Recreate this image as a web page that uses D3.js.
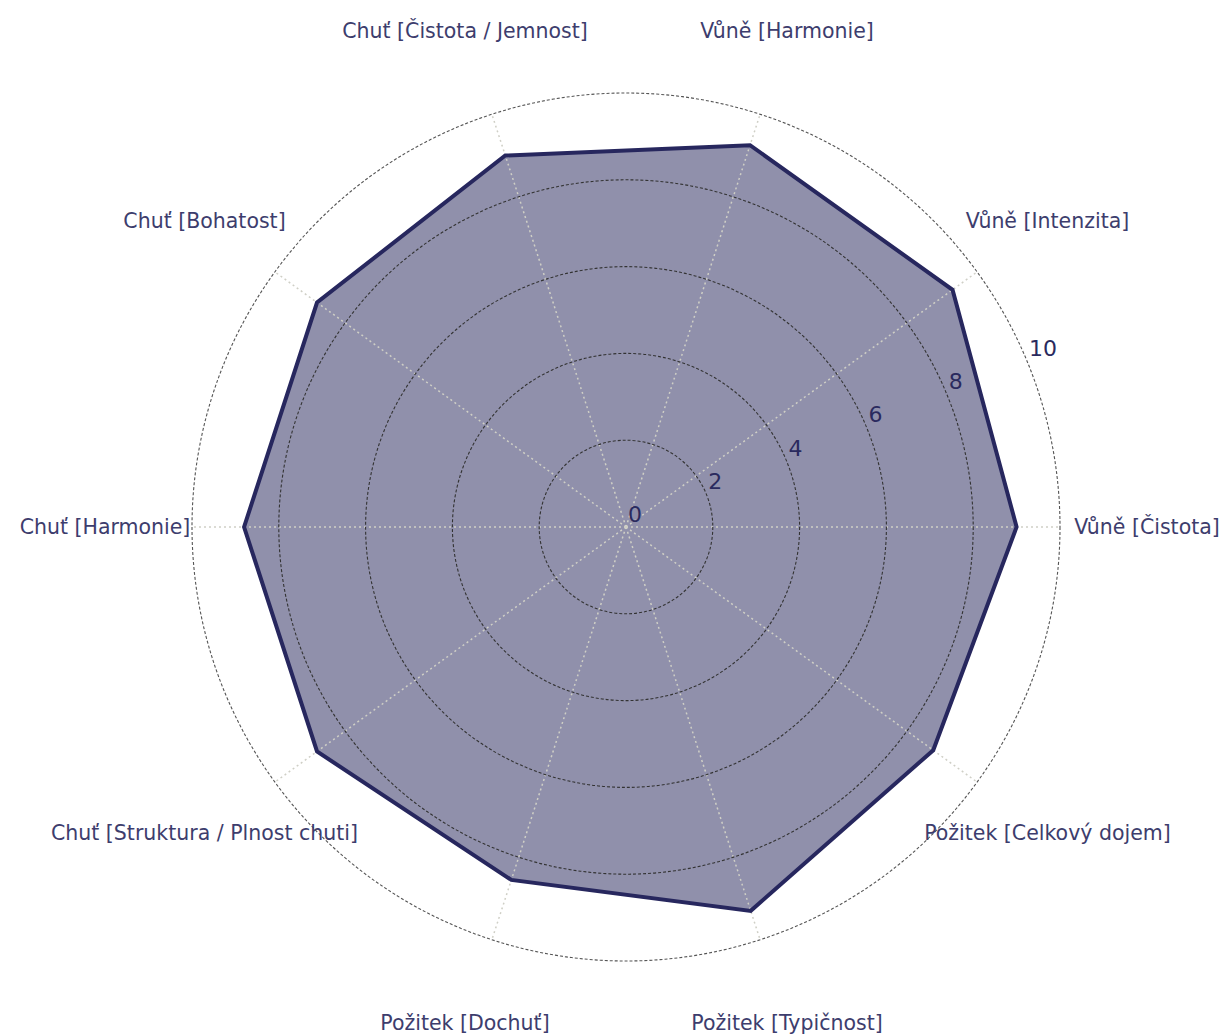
<!DOCTYPE html>
<html>
<head>
<meta charset="utf-8">
<script src="https://cdn.jsdelivr.net/npm/d3@7"></script>
<style>
  html, body { margin: 0; padding: 0; background: #ffffff; }
  svg { display: block; }
</style>
</head>
<body>
<div id="chart"></div>
<script>
// ---- data ----
const categories = [
  "Vůně [Čistota]",
  "Vůně [Intenzita]",
  "Vůně [Harmonie]",
  "Chuť [Čistota / Jemnost]",
  "Chuť [Bohatost]",
  "Chuť [Harmonie]",
  "Chuť [Struktura / Plnost chuti]",
  "Požitek [Dochuť]",
  "Požitek [Typičnost]",
  "Požitek [Celkový dojem]"
];
const values = [9.0, 9.3, 9.25, 9.0, 8.8, 8.8, 8.8, 8.55, 9.3, 8.75];
const radialTicks = [0, 2, 4, 6, 8, 10];
const radialRange = [0, 10];

// ---- layout ----
const W = 1227, H = 1035;
const cx = 626, cy = 527, R = 434;
const labelR = 521;
const radialAxisAngle = 22.5; // degrees, counter-clockwise from east

const svg = d3.select("#chart").append("svg")
  .attr("width", W).attr("height", H);

const r = d3.scaleLinear().domain(radialRange).range([0, R]);
const angle = d3.scaleLinear().domain([0, categories.length]).range([0, 2 * Math.PI]);

const pt = (i, v) => {
  const a = angle(i);
  return [cx + r(v) * Math.cos(a), cy - r(v) * Math.sin(a)];
};

const g = svg.append("g");

const lineGen = d3.line().curve(d3.curveLinearClosed);
const polyPts = values.map((v, i) => pt(i, v));

// fill polygon
g.append("path")
  .attr("d", lineGen(polyPts))
  .attr("fill", "#2a2a5e")
  .attr("fill-opacity", 0.52)
  .attr("stroke", "none");

// angular spokes
g.append("g").selectAll("line")
  .data(categories)
  .join("line")
  .attr("x1", cx).attr("y1", cy)
  .attr("x2", (d, i) => pt(i, radialRange[1])[0])
  .attr("y2", (d, i) => pt(i, radialRange[1])[1])
  .attr("stroke", "#cfcfc6")
  .attr("stroke-width", 1.5)
  .attr("stroke-dasharray", "2,3");

// radial grid circles
g.append("g").selectAll("circle")
  .data(radialTicks.filter(t => t > 0))
  .join("circle")
  .attr("cx", cx).attr("cy", cy)
  .attr("r", d => r(d))
  .attr("fill", "none")
  .attr("stroke", d => d === radialRange[1] ? "#555" : "#333")
  .attr("stroke-width", 1.1)
  .attr("stroke-dasharray", "3,2");

// outline
g.append("path")
  .attr("d", lineGen(polyPts))
  .attr("fill", "none")
  .attr("stroke", "#27275e")
  .attr("stroke-width", 4)
  .attr("stroke-linejoin", "miter");

// radial tick labels
const ra = radialAxisAngle * Math.PI / 180;
g.append("g").selectAll("text")
  .data(radialTicks)
  .join("text")
  .attr("x", d => cx + r(d) * Math.cos(ra) + 2)
  .attr("y", d => cy - r(d) * Math.sin(ra) - 5)
  .attr("font-family", "DejaVu Sans, sans-serif")
  .attr("font-size", 22)
  .attr("fill", "#2a2a5e")
  .text(d => d);

// category labels
g.append("g").selectAll("text")
  .data(categories)
  .join("text")
  .attr("x", (d, i) => cx + labelR * Math.cos(angle(i)))
  .attr("y", (d, i) => cy - labelR * Math.sin(angle(i)))
  .attr("text-anchor", "middle")
  .attr("dominant-baseline", "central")
  .attr("font-family", "DejaVu Sans, sans-serif")
  .attr("font-size", 20.5)
  .attr("fill", "#3d3d6d")
  .text(d => d);
</script>
</body>
</html>
